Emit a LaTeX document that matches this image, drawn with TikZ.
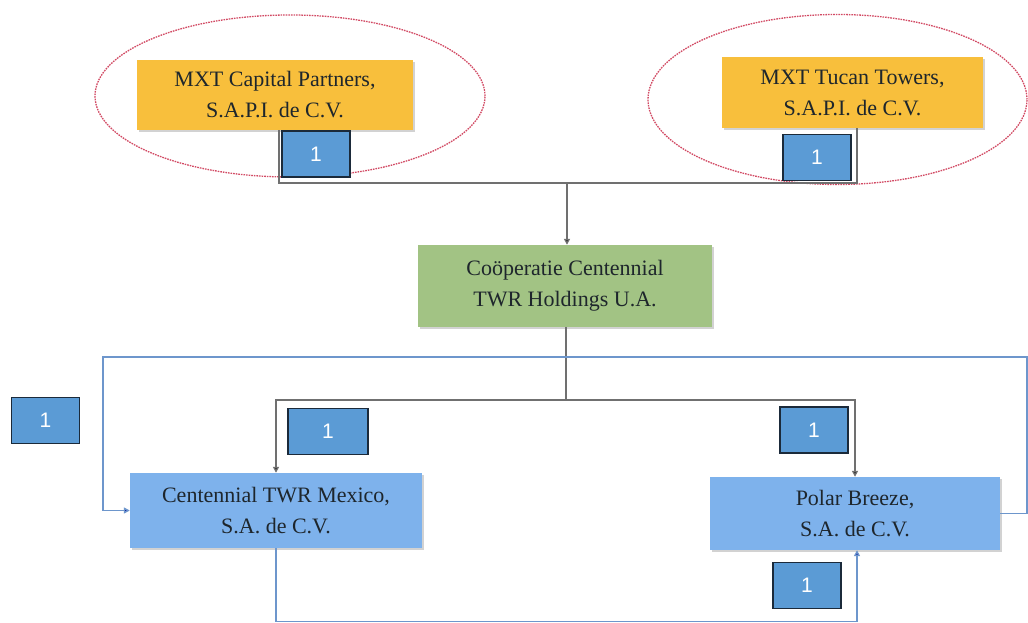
\documentclass[tikz,border=0pt]{standalone}
\usepackage{fontspec}
\setmainfont{Liberation Serif}
\newfontfamily\numfont{Liberation Sans}
\usetikzlibrary{arrows.meta,shadows,calc}
\definecolor{orangebox}{HTML}{F8BF3C}
\definecolor{greenbox}{HTML}{A2C384}
\definecolor{bluebox}{HTML}{7EB2EC}
\definecolor{numbox}{HTML}{5B9BD5}
\definecolor{numedge}{HTML}{1B2A3A}
\definecolor{grayline}{HTML}{707070}
\definecolor{blueline}{HTML}{6D96CC}
\definecolor{ellred}{HTML}{D24A64}
\definecolor{txt}{HTML}{1E262C}
\begin{document}
\begin{tikzpicture}[x=1pt,y=1pt,
  entity/.style={draw=none, text=txt, align=center,
    font=\fontsize{22}{31}\selectfont,
    drop shadow={opacity=0.35, shadow xshift=1.5pt, shadow yshift=-2pt}},
  orangeent/.style={entity, fill=orangebox},
  greenent/.style={entity, fill=greenbox},
  blueent/.style={entity, fill=bluebox},
  numtag/.style={draw=numedge, line width=1.2pt, fill=numbox, text=white,
    minimum width=68pt, minimum height=46pt, inner sep=0pt,
    font=\numfont\fontsize{21}{21}\selectfont},
  ring/.style={draw=ellred, line width=1.3pt, dash pattern=on 1.6pt off 1pt},
  gl/.style={draw=grayline, line width=1.4pt},
  gla/.style={gl, -{Triangle[width=6pt,length=6pt,fill=black]}},
  bl/.style={draw=blueline, line width=1.4pt},
  bla/.style={bl, -{Triangle[width=6pt,length=6pt,fill=blue!60!black]}}
]
\useasboundingbox (0,0) rectangle (1028,623);
\fill[white] (0,0) rectangle (1028,623);

% ellipses
\draw[ring] (290,527) ellipse [x radius=195, y radius=81];
\draw[ring] (837.5,523.5) ellipse [x radius=189.5, y radius=85];

% entities
\node[orangeent, minimum width=276pt, minimum height=70pt] (o1) at (275,528)
  {MXT Capital Partners,\\S.A.P.I. de C.V.};
\node[orangeent, minimum width=261pt, minimum height=71pt] (o2) at (852.5,530.5)
  {MXT Tucan Towers,\\S.A.P.I. de C.V.};
\node[greenent, minimum width=294pt, minimum height=82pt] (g) at (565,337)
  {Coöperatie Centennial\\TWR Holdings U.A.};
\node[blueent, minimum width=292pt, minimum height=75pt] (c) at (276,112.5)
  {Centennial TWR Mexico,\\S.A. de C.V.};
\node[blueent, minimum width=290pt, minimum height=73pt] (p) at (855,109.5)
  {Polar Breeze,\\S.A. de C.V.};

% junction coordinates
\coordinate (j1) at (567,440);
\coordinate (j2) at (566,223);
\coordinate (r1) at (1027,266);
\coordinate (l1) at (103,266);
\coordinate (b1) at (276,1.5);

% grey connectors
\draw[gl] ([xshift=4pt]o1.south) |- (j1);
\draw[gl] ([xshift=4.5pt]o2.south) |- (j1);
\draw[gla] (j1) -- (j1 |- g.north);
\draw[gl] (j2 |- g.south) -- (j2);
\draw[gla] (j2) -| (c.north);
\draw[gla] (j2) -| (p.north);

% blue connectors
\draw[bla] (p.east) -| (r1) -- (l1) |- (c.west);
\draw[bla] (c.south) -- (b1) -| ([xshift=2pt]p.south);

% number tags
\node[numtag] (n1) at (316,469) {1};
\node[numtag] (n2) at (817,465.5) {1};
\node[numtag] (n3) at (45.5,202.5) {1};
\node[numtag, minimum width=80pt] (n4) at (328,191.5) {1};
\node[numtag] (n5) at (814,193) {1};
\node[numtag] (n6) at (807,37.5) {1};
\end{tikzpicture}
\end{document}
